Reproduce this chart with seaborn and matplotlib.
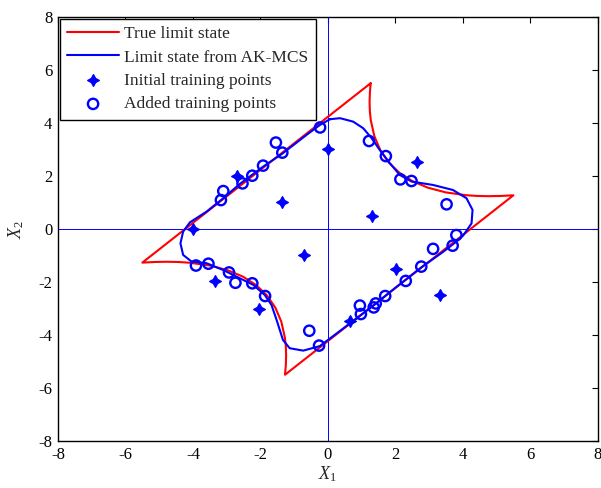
import numpy as np
import pandas as pd
import matplotlib
matplotlib.use("Agg")
import matplotlib.pyplot as plt
import seaborn as sns

# True limit state (four-branch series system), closed contour
true_x1 = [1.27, 1.246, 1.237, 1.246, 1.273, 1.379, 1.556, 1.803, 2.121,
           2.510, 2.970, 3.500, 4.101, 4.428, 4.773, 5.135, 5.50,
           -1.27, -1.246, -1.237, -1.246, -1.273, -1.379, -1.556, -1.803, -2.121,
           -2.510, -2.970, -3.500, -4.101, -4.428, -4.773, -5.135, -5.50, 1.27]
true_x2 = [5.50, 5.135, 4.773, 4.428, 4.101, 3.500, 2.970, 2.510, 2.121,
           1.803, 1.556, 1.379, 1.273, 1.246, 1.237, 1.246, 1.27,
           -5.50, -5.135, -4.773, -4.428, -4.101, -3.500, -2.970, -2.510, -2.121,
           -1.803, -1.556, -1.379, -1.273, -1.246, -1.237, -1.246, -1.27, 5.50]

# Kriging (AK-MCS) estimate of the limit state, closed contour
ak_x1 = [0.06, 0.36, 0.75, 1.05, 1.30, 1.54, 1.84, 2.13, 2.48, 3.12, 3.71, 4.11,
         4.29, 4.26, 4.01, 3.81, 3.40, 2.77, 2.00, 1.40, 0.80, 0.20, -0.24,
         -0.73, -1.13, -1.33, -1.52, -1.67, -1.87, -2.21, -2.61, -3.10, -3.60,
         -4.04, -4.29, -4.37, -4.29, -4.09, -3.60, -3.10, -2.61, -1.92, -1.33,
         -0.63, -0.24, 0.06]
ak_x2 = [4.14, 4.18, 4.05, 3.80, 3.42, 2.98, 2.48, 2.04, 1.79, 1.66, 1.47, 1.16,
         0.72, 0.21, -0.25, -0.48, -0.88, -1.45, -2.22, -2.84, -3.42, -4.00, -4.42,
         -4.59, -4.50, -4.19, -3.43, -2.87, -2.49, -2.11, -1.86, -1.55, -1.29,
         -1.23, -0.98, -0.54, -0.10, 0.25, 0.65, 1.16, 1.70, 2.35, 2.86,
         3.55, 3.92, 4.14]

# Initial design of experiments
init_x1 = [-4.00, -2.70, -1.35, 0.00, 2.63, 1.32, -0.72, -3.35, -2.04, 2.01, 0.65, 3.32]
init_x2 = [0.00, 2.00, 1.00, 3.00, 2.52, 0.50, -1.00, -1.96, -3.02, -1.51, -3.46, -2.49]

# Points enriched by the learning function
added_x1 = [-0.23, -1.54, -1.35, -1.92, -2.24, -2.53, -3.10, -3.17,
            1.22, 1.72, 2.15, 2.48, 3.52, 3.81,
            -3.91, -3.54, -2.93, -2.74, -2.24, -1.86, -0.55, -0.26,
            0.95, 0.98, 1.36, 1.42, 1.70, 2.31, 2.77, 3.12, 3.70]
added_x2 = [3.83, 3.26, 2.88, 2.39, 2.01, 1.72, 1.43, 1.09,
            3.32, 2.75, 1.87, 1.81, 0.93, -0.23,
            -1.38, -1.31, -1.64, -2.03, -2.05, -2.53, -3.84, -4.40,
            -2.89, -3.21, -2.96, -2.81, -2.53, -1.96, -1.42, -0.75, -0.63]

ticks = [-8, -6, -4, -2, 0, 2, 4, 6, 8]

sns.set_style("white")
plt.rcParams["font.family"] = ["Liberation Serif", "DejaVu Serif"]
plt.rcParams["mathtext.fontset"] = "custom"
plt.rcParams["mathtext.rm"] = "Liberation Serif"
plt.rcParams["mathtext.it"] = "Liberation Serif:italic"
plt.rcParams["axes.unicode_minus"] = False

fig = plt.figure(figsize=(6.01, 4.88), dpi=100)
ax = fig.add_axes([0.0965, 0.0963, 0.898, 0.869])

ax.axhline(0, color="blue", lw=0.7, zorder=1)
ax.axvline(0, color="blue", lw=0.7, zorder=1)

true_df = pd.DataFrame({"x1": true_x1, "x2": true_x2})
ak_df = pd.DataFrame({"x1": ak_x1, "x2": ak_x2})
init_df = pd.DataFrame({"x1": init_x1, "x2": init_x2})
added_df = pd.DataFrame({"x1": added_x1, "x2": added_x2})

sns.lineplot(data=true_df, x="x1", y="x2", sort=False, estimator=None,
             color="red", lw=1.5, ax=ax, label="True limit state", zorder=2)
sns.lineplot(data=ak_df, x="x1", y="x2", sort=False, estimator=None,
             color="blue", lw=1.5, ax=ax, label="Limit state from AK-MCS", zorder=3)
sns.scatterplot(data=init_df, x="x1", y="x2", marker=(4, 1, 0), s=70,
                color="blue", edgecolor="blue", linewidth=1.0, ax=ax,
                label="Initial training points", zorder=4)
sns.scatterplot(data=added_df, x="x1", y="x2", marker="o", s=55,
                facecolor="none", edgecolor="blue", linewidth=1.7, ax=ax,
                label="Added training points", zorder=5)

ax.set_xlim(-8, 8)
ax.set_ylim(-8, 8)
ax.set_xticks(ticks)
ax.set_yticks(ticks)
ax.set_xticklabels([str(t) for t in ticks])
ax.set_yticklabels([str(t) for t in ticks])
ax.tick_params(direction="in", length=4, width=0.8, top=True, right=True,
               labelsize=12, colors="black", pad=4)
for sp in ax.spines.values():
    sp.set_color("black")
    sp.set_linewidth(1.0)

ax.set_xlabel(r"$X_1$", fontsize=13, labelpad=1)
ax.set_ylabel(r"$X_2$", fontsize=13, labelpad=9)

leg = ax.legend(loc="upper left", fontsize=12.5, frameon=True, fancybox=False,
                edgecolor="black", borderaxespad=0.1, handlelength=3.0,
                handletextpad=0.3, labelspacing=0.42, borderpad=0.42,
                markerscale=1.0)
leg.get_frame().set_linewidth(1.0)
leg.get_frame().set_alpha(1.0)

fig.savefig("out.png", dpi=100)
